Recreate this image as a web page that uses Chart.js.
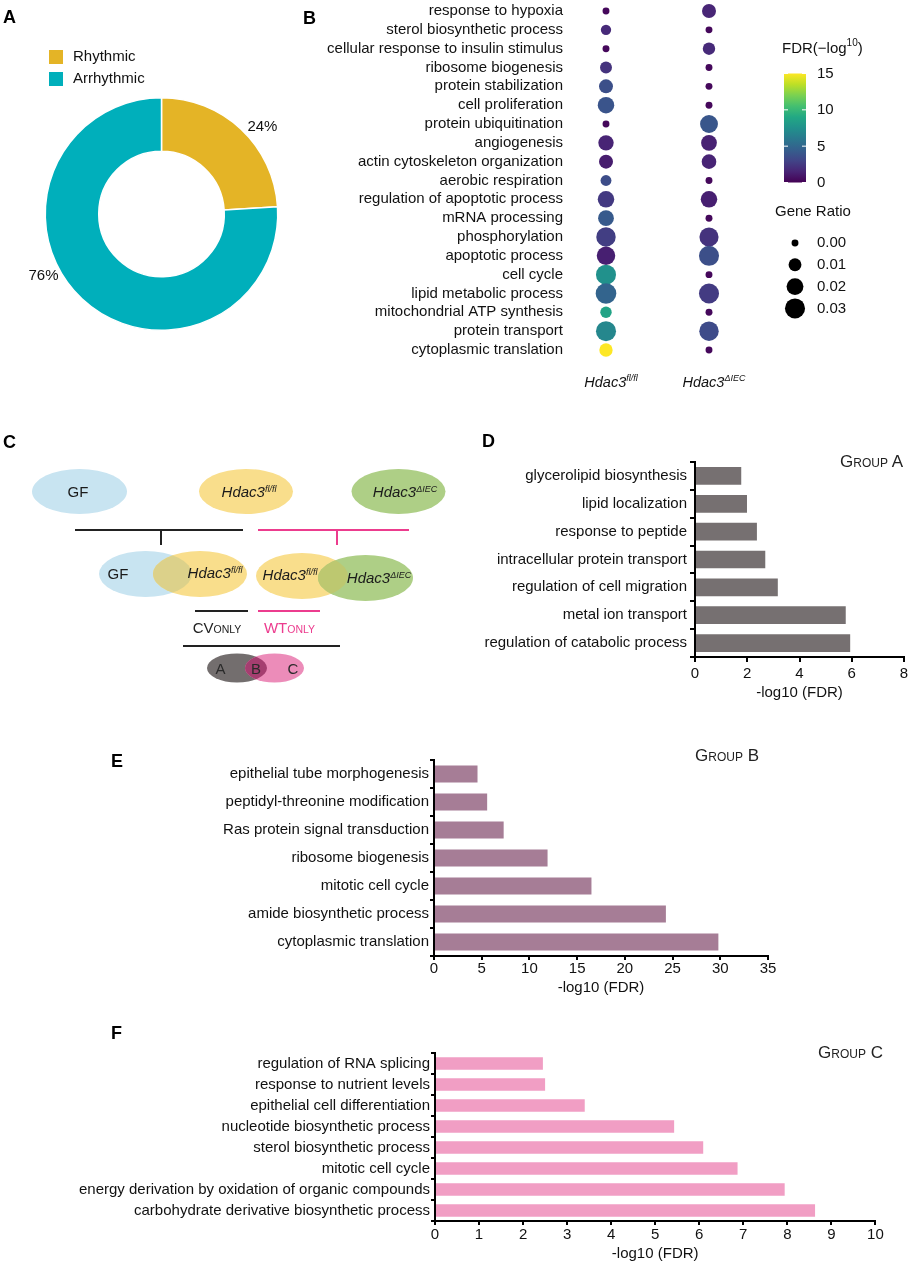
<!DOCTYPE html>
<html>
<head>
<meta charset="utf-8">
<script src="https://cdn.jsdelivr.net/npm/chart.js@4.4.1/dist/chart.umd.min.js"></script>
<style>
html,body{margin:0;padding:0;background:#fff;}
body{width:913px;height:1266px;position:relative;overflow:hidden;font-family:"Liberation Sans",Arial,sans-serif;}
canvas{position:absolute;}
#overlay{position:absolute;left:0;top:0;pointer-events:none;}
</style>
</head>
<body>
<canvas id="pie" width="330" height="310" style="left:0;top:30px"></canvas>
<canvas id="dots" width="613" height="400" style="left:300px;top:0"></canvas>
<canvas id="groupA" width="463" height="265" style="left:450px;top:440px"></canvas>
<canvas id="groupB" width="700" height="260" style="left:100px;top:740px"></canvas>
<canvas id="groupC" width="863" height="236" style="left:50px;top:1030px"></canvas>

<svg id="overlay" width="913" height="1266" viewBox="0 0 913 1266" font-family="Liberation Sans, Arial, sans-serif">
  <defs>
    <clipPath id="cGF"><ellipse cx="145.5" cy="574" rx="46.5" ry="23"/></clipPath>
    <clipPath id="cFl"><ellipse cx="302" cy="576" rx="46" ry="23"/></clipPath>
    <clipPath id="cA"><ellipse cx="237" cy="668" rx="30" ry="14.5"/></clipPath>
  </defs>
  <g font-weight="bold" font-size="18" fill="#000">
    <text x="3" y="23">A</text>
    <text x="303" y="24">B</text>
    <text x="3" y="448">C</text>
    <text x="482" y="447">D</text>
    <text x="111" y="767">E</text>
    <text x="111" y="1039">F</text>
  </g>
  <g fill="#222">
    <text x="840" y="467"><tspan font-size="17">G</tspan><tspan font-size="12">ROUP</tspan><tspan font-size="17"> A</tspan></text>
    <text x="695" y="761"><tspan font-size="17">G</tspan><tspan font-size="12">ROUP</tspan><tspan font-size="17"> B</tspan></text>
    <text x="818" y="1058"><tspan font-size="17">G</tspan><tspan font-size="12">ROUP</tspan><tspan font-size="17"> C</tspan></text>
  </g>

  <!-- panel C scheme -->
  <ellipse cx="79.5" cy="491.5" rx="47.5" ry="22.5" fill="#c8e4f1"/>
  <ellipse cx="246" cy="491.5" rx="47" ry="22.5" fill="#f9de8c"/>
  <ellipse cx="398.5" cy="491.5" rx="47" ry="22.5" fill="#aecf86"/>
  <g font-size="15" fill="#1a1a1a" text-anchor="middle">
    <text x="78" y="497">GF</text>
    <text x="249" y="497" font-style="italic">Hdac3<tspan font-size="9" dy="-5">fl/fl</tspan></text>
    <text x="405" y="497" font-style="italic">Hdac3<tspan font-size="9" dy="-5">ΔIEC</tspan></text>
  </g>
  <path d="M75 530 H243 M161 530 V545" stroke="#222" stroke-width="2" fill="none"/>
  <path d="M258 530 H409 M337 530 V545" stroke="#ec3c8e" stroke-width="2" fill="none"/>

  <ellipse cx="145.5" cy="574" rx="46.5" ry="23" fill="#c8e4f1"/>
  <ellipse cx="200" cy="574" rx="47" ry="23" fill="#f9de8c"/>
  <ellipse cx="200" cy="574" rx="47" ry="23" fill="#dcd18a" clip-path="url(#cGF)"/>
  <ellipse cx="302" cy="576" rx="46" ry="23" fill="#f9de8c"/>
  <ellipse cx="365.5" cy="578" rx="47.5" ry="23" fill="#aecf86"/>
  <ellipse cx="365.5" cy="578" rx="47.5" ry="23" fill="#bdc870" clip-path="url(#cFl)"/>
  <g font-size="15" fill="#1a1a1a" text-anchor="middle">
    <text x="118" y="579">GF</text>
    <text x="215" y="578" font-style="italic">Hdac3<tspan font-size="9" dy="-5">fl/fl</tspan></text>
    <text x="290" y="580" font-style="italic">Hdac3<tspan font-size="9" dy="-5">fl/fl</tspan></text>
    <text x="379" y="583" font-style="italic">Hdac3<tspan font-size="9" dy="-5">ΔIEC</tspan></text>
  </g>
  <path d="M195 611 H248" stroke="#222" stroke-width="2"/>
  <path d="M258 611 H320" stroke="#ec3c8e" stroke-width="2"/>
  <text x="217" y="633" text-anchor="middle" fill="#222"><tspan font-size="15">CV</tspan><tspan font-size="10.5">ONLY</tspan></text>
  <text x="289.5" y="633" text-anchor="middle" fill="#ec3c8e"><tspan font-size="15">WT</tspan><tspan font-size="10.5">ONLY</tspan></text>
  <path d="M183 646 H340" stroke="#222" stroke-width="2"/>
  <ellipse cx="237" cy="668" rx="30" ry="14.5" fill="#736e6e"/>
  <ellipse cx="274.5" cy="668" rx="29.5" ry="14.5" fill="#ec8cb9"/>
  <ellipse cx="274.5" cy="668" rx="29.5" ry="14.5" fill="#a53e70" clip-path="url(#cA)"/>
  <g font-size="15" fill="#2a2a2a" text-anchor="middle">
    <text x="220.5" y="673.5">A</text>
    <text x="256" y="673.5">B</text>
    <text x="293" y="673.5">C</text>
  </g>
</svg>

<script>
const FONT='"Liberation Sans", Arial, sans-serif';
Chart.defaults.font.family=FONT;
Chart.defaults.font.size=15;
Chart.defaults.color='#111';

// panel A
const rhythmLabels=['Rhythmic','Arrhythmic'];
const rhythmShare=[24,76];
const rhythmColors=['#e4b426','#00afbb'];

// panel B
const terms=['response to hypoxia','sterol biosynthetic process','cellular response to insulin stimulus','ribosome biogenesis','protein stabilization','cell proliferation','protein ubiquitination','angiogenesis','actin cytoskeleton organization','aerobic respiration','regulation of apoptotic process','mRNA processing','phosphorylation','apoptotic process','cell cycle','lipid metabolic process','mitochondrial ATP synthesis','protein transport','cytoplasmic translation'];
const genotypes=['fl/fl','ΔIEC'];
const ratioFlox=[0,0.005,0,0.008,0.0125,0.019,0,0.016,0.0125,0.006,0.019,0.017,0.028,0.025,0.03,0.032,0.007,0.03,0.011];
const fdrFlox=[0.3,1.8,0.3,2.2,3.6,3.9,0.3,1.5,1.2,3.5,2.5,4.2,2.7,1.3,7.5,4.8,8.7,6.9,15];
const ratioDel=[0.0125,0,0.009,0,0,0,0.023,0.017,0.014,0,0.019,0,0.027,0.03,0,0.03,0,0.028,0];
const fdrDel=[1.6,0.3,1.8,0.3,0.3,0.3,4.0,1.4,1.5,0.3,1.3,0.3,2.2,3.6,0.3,2.6,0.3,3.4,0.3];
const fdrTicks=[0,5,10,15];
const ratioTicks=[0,0.01,0.02,0.03];

// panels D, E, F
const groupATerms=['glycerolipid biosynthesis','lipid localization','response to peptide','intracellular protein transport','regulation of cell migration','metal ion transport','regulation of catabolic process'];
const groupAValues=[1.77,1.99,2.37,2.69,3.17,5.77,5.94];
const groupBTerms=['epithelial tube morphogenesis','peptidyl-threonine modification','Ras protein signal transduction','ribosome biogenesis','mitotic cell cycle','amide biosynthetic process','cytoplasmic translation'];
const groupBValues=[4.56,5.57,7.3,11.9,16.5,24.3,29.8];
const groupCTerms=['regulation of RNA splicing','response to nutrient levels','epithelial cell differentiation','nucleotide biosynthetic process','sterol biosynthetic process','mitotic cell cycle','energy derivation by oxidation of organic compounds','carbohydrate derivative biosynthetic process'];
const groupCValues=[2.45,2.50,3.40,5.43,6.09,6.87,7.94,8.63];

const viridisStops=['#440154','#482475','#414487','#355f8d','#2a788e','#21918c','#22a884','#44bf70','#7ad151','#bddf26','#fde725'];
function hexRgb(h){return [1,3,5].map(i=>parseInt(h.substr(i,2),16));}
function viridis(v){
    const t=Math.max(0,Math.min(1,v/15))*10;
    const i=Math.min(9,Math.floor(t)), f=t-i;
    const a=hexRgb(viridisStops[i]), b=hexRgb(viridisStops[i+1]);
    return 'rgb('+a.map((c,k)=>Math.round(c+(b[k]-c)*f)).join(',')+')';
}
function radius(ratio){return Math.sqrt(12+2950*ratio);}

const donutText={
    id:'donutText',
    afterDraw(chart){
        const ctx=chart.ctx, ds=chart.data.datasets[0], meta=chart.getDatasetMeta(0);
        ctx.save();
        ctx.font='15px '+FONT;
        ctx.textBaseline='middle';
        chart.data.labels.forEach((lab,i)=>{
            const y=20+i*22;
            ctx.fillStyle=ds.backgroundColor[i];
            ctx.fillRect(49,y,14,14);
            ctx.fillStyle='#111';
            ctx.textAlign='left';
            ctx.fillText(lab,73,y+7);
        });
        const total=ds.data.reduce((a,b)=>a+b,0);
        meta.data.forEach((arc,i)=>{
            const p=arc.getProps(['x','y','startAngle','endAngle','outerRadius']);
            const a=p.startAngle+0.57*(p.endAngle-p.startAngle);
            const r=p.outerRadius+17;
            ctx.textAlign='center';
            ctx.fillStyle='#111';
            ctx.fillText(Math.round(ds.data[i]/total*100)+'%',p.x+r*Math.cos(a),p.y+r*Math.sin(a));
        });
        ctx.restore();
    }
};

new Chart(document.getElementById('pie'),{
    type:'doughnut',
    data:{labels:rhythmLabels,datasets:[{data:rhythmShare,backgroundColor:rhythmColors,borderColor:'#fff',borderWidth:1.5}]},
    options:{
        responsive:false,animation:false,cutout:'54%',
        layout:{padding:{left:44.5,right:51.5,top:67,bottom:9}},
        plugins:{legend:{display:false},tooltip:{enabled:false}}
    },
    plugins:[donutText]
});

function drawSup(ctx,base,sup,cx,cy,size,supSize){
    ctx.font='italic '+size+'px '+FONT;
    const w1=ctx.measureText(base).width;
    ctx.font='italic '+supSize+'px '+FONT;
    const w2=ctx.measureText(sup).width;
    const x=cx-(w1+w2)/2;
    ctx.textAlign='left';
    ctx.font='italic '+size+'px '+FONT;
    ctx.fillText(base,x,cy);
    ctx.font='italic '+supSize+'px '+FONT;
    ctx.fillText(sup,x+w1,cy-5);
}

const bubbleLegend={
    id:'bubbleLegend',
    afterDraw(chart){
        const ctx=chart.ctx;
        ctx.save();
        ctx.fillStyle='#111';
        ctx.textBaseline='middle';
        // genotype labels
        genotypes.forEach((g,i)=>{
            drawSup(ctx,'Hdac3',g,chart.scales.x.getPixelForValue(i)+5,383,14.5,9);
        });
        // colour bar
        ctx.textAlign='left';
        ctx.font='15px '+FONT;
        let x=482;
        ctx.fillText('FDR(−log',x,49);
        x+=ctx.measureText('FDR(−log').width;
        ctx.font='10px '+FONT;
        ctx.fillText('10',x,43);
        x+=ctx.measureText('10').width;
        ctx.font='15px '+FONT;
        ctx.fillText(')',x,49);
        const yOf=v=>182.5-v*(109/15);
        const g=ctx.createLinearGradient(0,yOf(0),0,yOf(15));
        viridisStops.forEach((c,i)=>g.addColorStop(i/10,c));
        ctx.fillStyle=g;
        ctx.fillRect(484,yOf(15),22,yOf(0)-yOf(15));
        ctx.strokeStyle='#fff';
        ctx.lineWidth=1;
        fdrTicks.forEach(v=>{
            const y=yOf(v);
            ctx.beginPath();
            ctx.moveTo(484,y);ctx.lineTo(488,y);
            ctx.moveTo(502,y);ctx.lineTo(506,y);
            ctx.stroke();
            ctx.fillStyle='#111';
            ctx.fillText(String(v),517,y+0.5);
        });
        // size legend
        ctx.fillStyle='#111';
        ctx.fillText('Gene Ratio',475,212);
        ratioTicks.forEach((v,i)=>{
            const y=243+i*21.8;
            ctx.fillStyle='#000';
            ctx.beginPath();
            ctx.arc(495,y,radius(v),0,Math.PI*2);
            ctx.fill();
            ctx.fillStyle='#111';
            ctx.fillText(v.toFixed(2),517,y);
        });
        ctx.restore();
    }
};

new Chart(document.getElementById('dots'),{
    type:'bubble',
    data:{datasets:[
        {data:terms.map((t,i)=>({x:0,y:i,r:radius(ratioFlox[i])})),backgroundColor:fdrFlox.map(viridis),borderWidth:0,clip:false},
        {data:terms.map((t,i)=>({x:1,y:i,r:radius(ratioDel[i])})),backgroundColor:fdrDel.map(viridis),borderWidth:0,clip:false}
    ]},
    options:{
        responsive:false,animation:false,
        layout:{autoPadding:false,padding:{top:1.6,bottom:40.6,right:153,left:0}},
        plugins:{legend:{display:false},tooltip:{enabled:false}},
        scales:{
            x:{type:'linear',display:false,min:-0.3495,max:1.4952},
            y:{
                type:'linear',reverse:true,min:-0.5,max:18.5,
                afterBuildTicks:s=>{s.ticks=terms.map((t,i)=>({value:i}));},
                ticks:{callback:v=>terms[v],autoSkip:false,padding:7,color:'#111',font:{size:15}},
                grid:{display:false,drawTicks:false},
                border:{display:false},
                afterFit:s=>{s.width=270;s.paddingTop=0;s.paddingBottom=0;}
            }
        }
    },
    plugins:[bubbleLegend]
});

function hbar(id,labels,values,color,o){
    return new Chart(document.getElementById(id),{
        type:'bar',
        data:{labels:labels,datasets:[{data:values,backgroundColor:color,barPercentage:o.bar,categoryPercentage:1}]},
        options:{
            indexAxis:'y',responsive:false,animation:false,
            layout:{padding:{top:o.top,right:o.right,bottom:o.bottom,left:0}},
            plugins:{legend:{display:false},tooltip:{enabled:false}},
            scales:{
                x:{
                    min:0,max:o.max,
                    ticks:{stepSize:o.step,padding:o.tickPad,color:'#111',font:{size:15}},
                    grid:{drawOnChartArea:false,tickLength:o.tickLen,color:'#000',lineWidth:2},
                    border:{color:'#000',width:2},
                    title:{display:true,text:'-log10 (FDR)',color:'#111',font:{size:15},padding:0},
                    afterFit:s=>{s.height=o.xh;}
                },
                y:{
                    ticks:{color:'#111',font:{size:15},padding:o.yPad,autoSkip:false},
                    grid:{offset:true,drawOnChartArea:false,tickLength:o.yTick,color:'#000',lineWidth:2},
                    border:{color:'#000',width:2},
                    afterFit:s=>{s.width=o.yw;}
                }
            }
        }
    });
}

hbar('groupA',groupATerms,groupAValues,'#767071',{bar:0.635,top:22,right:9,bottom:3,max:8,step:2,tickPad:3,tickLen:5,xh:45,yPad:3,yTick:5,yw:245});
hbar('groupB',groupBTerms,groupBValues,'#a67d96',{bar:0.61,top:20,right:32,bottom:3.5,max:35,step:5,tickPad:0,tickLen:4,xh:40.5,yPad:1,yTick:4,yw:334});
hbar('groupC',groupCTerms,groupCValues,'#f19ec4',{bar:0.6,top:23,right:37.6,bottom:3,max:10,step:1,tickPad:1,tickLen:4,xh:42,yPad:1,yTick:4,yw:385});
</script>
</body>
</html>
